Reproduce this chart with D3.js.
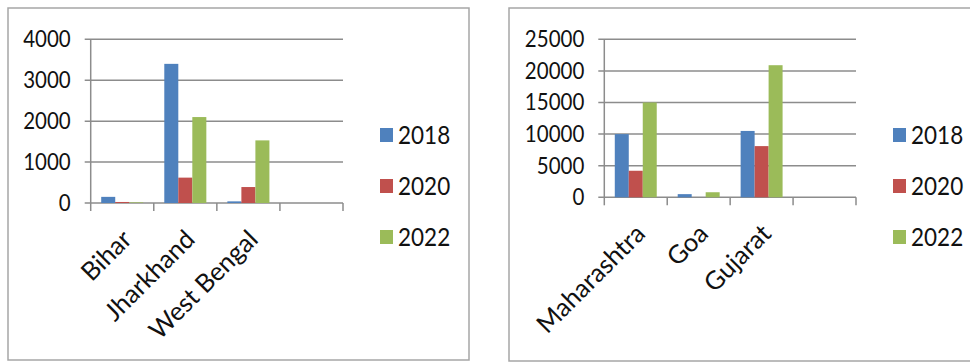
<!DOCTYPE html>
<html>
<head>
<meta charset="utf-8">
<script src="https://cdn.jsdelivr.net/npm/d3@7"></script>
<style>
  body { margin: 0; background: #fff; }
  svg { display: block; font-family: Lato, "Open Sans", sans-serif; }
</style>
</head>
<body>
<div id="chart"></div>
<script>
const years = ["2018", "2020", "2022"];
const colors = ["#4f81bd", "#c0504d", "#9bbb59"];

// east panel
const eastStates = ["Bihar", "Jharkhand", "West Bengal", ""];
const east2018 = [150, 3400, 40, null];
const east2020 = [25, 620, 390, null];
const east2022 = [15, 2100, 1530, null];
const eastTicks = [0, 1000, 2000, 3000, 4000];

// west panel
const westStates = ["Maharashtra", "Goa", "Gujarat", ""];
const west2018 = [10000, 500, 10500, null];
const west2020 = [4200, 0, 8100, null];
const west2022 = [15000, 800, 20900, null];
const westTicks = [0, 5000, 10000, 15000, 20000, 25000];

const svg = d3.select("#chart")
  .append("svg")
  .attr("width", 970)
  .attr("height", 362);

function drawPanel(opt) {
  const g = svg.append("g");

  g.append("rect")
    .attr("x", opt.box[0])
    .attr("y", opt.box[1])
    .attr("width", opt.box[2])
    .attr("height", opt.box[3])
    .attr("fill", "#fff")
    .attr("stroke", "#a6a6a6")
    .attr("stroke-width", 1.5);

  const x = d3.scaleBand()
    .domain(opt.states)
    .range([opt.left, opt.right]);

  const xi = d3.scaleBand()
    .domain(years)
    .range([0, x.bandwidth()])
    .paddingOuter(0.75);

  const y = d3.scaleLinear()
    .domain(d3.extent(opt.ticks))
    .range([opt.bottom, opt.top]);

  // gridlines
  g.selectAll(".grid")
    .data(opt.ticks)
    .enter()
    .append("line")
    .attr("x1", opt.left - 6)
    .attr("x2", opt.right)
    .attr("y1", d => y(d))
    .attr("y2", d => y(d))
    .attr("stroke", "#8c8c8c")
    .attr("stroke-width", 1.5);

  // y axis line
  g.append("line")
    .attr("x1", opt.left).attr("x2", opt.left)
    .attr("y1", opt.top).attr("y2", opt.bottom)
    .attr("stroke", "#8c8c8c")
    .attr("stroke-width", 1.5);

  g.selectAll(".ylab")
    .data(opt.ticks)
    .enter()
    .append("text")
    .attr("transform", d => `translate(${opt.left - 20},${y(d)}) scale(1,1.08)`)
    .attr("dy", "0.36em")
    .attr("text-anchor", "end")
    .attr("font-size", 20.5)
    .attr("fill", "#111")
    .text(d => d);

  // category ticks at band edges
  const edges = opt.states.map(s => x(s)).concat([opt.right]);
  g.selectAll(".xtick")
    .data(edges)
    .enter()
    .append("line")
    .attr("x1", d => d).attr("x2", d => d)
    .attr("y1", opt.bottom).attr("y2", opt.bottom + 8)
    .attr("stroke", "#8c8c8c")
    .attr("stroke-width", 1.5);

  // bars
  opt.series.forEach((vals, i) => {
    g.selectAll(".bar" + i)
      .data(opt.states.map((s, j) => ({ s: s, v: vals[j] })).filter(d => d.v != null))
      .enter()
      .append("rect")
      .attr("x", d => x(d.s) + xi(years[i]))
      .attr("width", xi.bandwidth())
      .attr("y", d => y(d.v))
      .attr("height", d => opt.bottom - y(d.v))
      .attr("fill", colors[i]);
  });

  // category labels
  g.selectAll(".xlab")
    .data(opt.states.filter(s => s !== ""))
    .enter()
    .append("text")
    .attr("transform", d => `translate(${x(d) + x.bandwidth() / 2 + 11},${opt.bottom + 38}) rotate(-45)`)
    .attr("text-anchor", "end")
    .attr("font-size", 25.5)
    .attr("fill", "#111")
    .text(d => d);

  // legend
  years.forEach((yr, i) => {
    const cy = 135 + i * 51;
    g.append("rect")
      .attr("x", opt.legendX)
      .attr("y", cy - 7)
      .attr("width", 13)
      .attr("height", 14)
      .attr("fill", colors[i]);
    g.append("text")
      .attr("transform", `translate(${opt.legendX + 18},${cy}) scale(1,1.15)`)
      .attr("dy", "0.36em")
      .attr("font-size", 22.5)
      .attr("fill", "#111")
      .text(yr);
  });
}

drawPanel({
  box: [8, 8, 461, 352],
  states: eastStates,
  series: [east2018, east2020, east2022],
  ticks: eastTicks,
  left: 90.7, right: 343,
  top: 39.3, bottom: 203,
  legendX: 380
});

drawPanel({
  box: [509, 8, 480, 353],
  states: westStates,
  series: [west2018, west2020, west2022],
  ticks: westTicks,
  left: 604.3, right: 856,
  top: 39.3, bottom: 197.3,
  legendX: 893
});
</script>
</body>
</html>
